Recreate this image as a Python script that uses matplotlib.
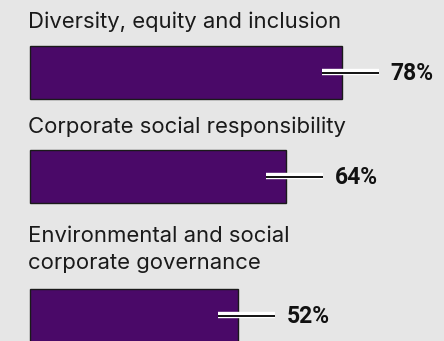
import matplotlib.pyplot as plt

categories = [
    "Diversity, equity and inclusion",
    "Corporate social responsibility",
    "Environmental and social\ncorporate governance",
]
values = [78, 64, 52]

# layout in pixel rows (y grows downward); baseline is the last text line
bar_centers = [72.5, 176.5, 315.5]
label_baselines = [28, 133, 269]
bar_h = 53

bg = "#e6e6e6"
purple = "#4a0968"

fig = plt.figure(figsize=(4.44, 3.41), dpi=100)
fig.patch.set_facecolor(bg)
ax = fig.add_axes([0, 0, 1, 1])
ax.set_facecolor(bg)
ax.set_xlim(-7.5, 103.5)
ax.set_ylim(341, 0)
ax.axis("off")

ax.barh(bar_centers, values, height=bar_h, left=0, color=purple,
        edgecolor="#1a1a1a", linewidth=1.0)

for cat, val, yc, yb in zip(categories, values, bar_centers, label_baselines):
    ax.text(-0.5, yb, cat, fontsize=15.9, family="Inter", color="#1a1a1a",
            ha="left", va="baseline", linespacing=1.42)
    # leader line: white stroke with a thin dark core
    ax.plot([val - 5, val + 9.25], [yc - 0.2, yc - 0.2], color="white",
            lw=4.6, solid_capstyle="butt")
    ax.plot([val - 5, val + 9.25], [yc + 0.2, yc + 0.2], color="#111111",
            lw=1.4, solid_capstyle="butt")
    ax.text(val + 12.2, yc + 7.5, f"{val}%", fontsize=16.5, family="Roboto",
            fontweight="bold", color="#111111", ha="left", va="baseline")

fig.savefig("out.png", dpi=100, facecolor=bg)
